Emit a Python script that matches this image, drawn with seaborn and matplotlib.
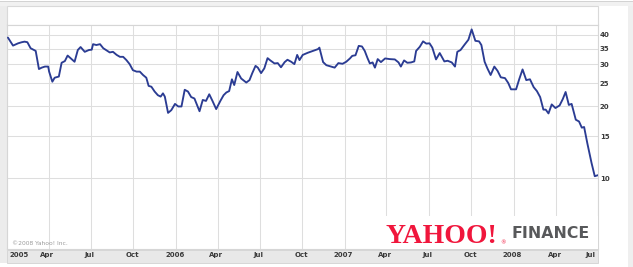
import matplotlib
matplotlib.use("Agg")
import matplotlib.pyplot as plt
from matplotlib.patches import Rectangle
from matplotlib.ticker import NullLocator
import matplotlib.transforms as mtransforms
import pandas as pd
import seaborn as sns

# ---- data ----
dates = [
    "2005-01-03", "2005-01-14", "2005-01-25", "2005-02-02", "2005-02-08", "2005-02-14",
    "2005-02-21", "2005-03-04", "2005-03-11", "2005-03-17", "2005-03-24", "2005-03-31",
    "2005-04-02", "2005-04-09", "2005-04-14", "2005-04-23", "2005-04-29", "2005-05-06",
    "2005-05-12", "2005-05-19", "2005-05-27", "2005-06-03", "2005-06-09", "2005-06-18",
    "2005-06-27", "2005-07-03", "2005-07-06", "2005-07-13", "2005-07-21", "2005-07-28",
    "2005-08-04", "2005-08-11", "2005-08-18", "2005-08-26", "2005-09-02", "2005-09-09",
    "2005-09-16", "2005-09-23", "2005-09-30", "2005-10-08", "2005-10-15", "2005-10-22",
    "2005-10-29", "2005-11-03", "2005-11-09", "2005-11-16", "2005-11-23", "2005-11-29",
    "2005-12-04", "2005-12-08", "2005-12-15", "2005-12-22", "2005-12-30",
    "2006-01-06", "2006-01-13", "2006-01-20", "2006-01-27", "2006-02-03", "2006-02-10",
    "2006-02-21", "2006-02-28", "2006-03-07", "2006-03-14", "2006-03-21", "2006-03-29",
    "2006-04-07", "2006-04-14", "2006-04-20", "2006-04-26", "2006-05-02", "2006-05-07",
    "2006-05-14", "2006-05-22", "2006-06-02", "2006-06-09", "2006-06-15", "2006-06-22",
    "2006-06-27", "2006-07-04", "2006-07-11", "2006-07-18", "2006-07-24", "2006-08-02",
    "2006-08-09", "2006-08-16", "2006-08-24", "2006-08-30", "2006-09-07", "2006-09-14",
    "2006-09-20", "2006-09-25", "2006-10-02", "2006-10-13", "2006-10-24", "2006-11-04",
    "2006-11-07", "2006-11-15", "2006-11-22", "2006-12-02", "2006-12-10", "2006-12-18",
    "2006-12-27",
    "2007-01-04", "2007-01-12", "2007-01-17", "2007-01-24", "2007-01-31", "2007-02-07",
    "2007-02-13", "2007-02-19", "2007-02-24", "2007-03-02", "2007-03-07", "2007-03-13",
    "2007-03-20", "2007-03-29", "2007-04-08", "2007-04-19", "2007-04-27", "2007-05-02",
    "2007-05-09", "2007-05-16", "2007-05-24", "2007-05-31", "2007-06-04", "2007-06-12",
    "2007-06-19", "2007-06-26", "2007-07-03", "2007-07-09", "2007-07-17", "2007-07-25",
    "2007-08-04", "2007-08-11", "2007-08-20", "2007-08-27", "2007-09-01", "2007-09-08",
    "2007-09-17", "2007-09-25", "2007-10-02", "2007-10-10", "2007-10-18", "2007-10-23",
    "2007-10-30", "2007-11-05", "2007-11-12", "2007-11-20", "2007-11-27", "2007-12-04",
    "2007-12-13", "2007-12-20", "2007-12-26",
    "2008-01-06", "2008-01-13", "2008-01-20", "2008-01-28", "2008-02-05", "2008-02-13",
    "2008-02-20", "2008-02-27", "2008-03-05", "2008-03-10", "2008-03-16", "2008-03-23",
    "2008-03-31", "2008-04-09", "2008-04-16", "2008-04-22", "2008-04-29", "2008-05-05",
    "2008-05-14", "2008-05-21", "2008-05-27", "2008-06-01", "2008-06-08", "2008-06-17",
    "2008-06-24", "2008-07-01",
]
closes = [
    38.9, 36.0, 36.8, 37.2, 37.4, 37.2,
    35.1, 34.2, 28.7, 29.1, 29.4, 29.4,
    28.0, 25.4, 26.4, 26.7, 30.5, 31.0,
    32.7, 31.8, 30.8, 34.5, 35.5, 33.9,
    34.5, 34.6, 36.5, 36.2, 36.5, 35.1,
    34.4, 33.7, 33.9, 32.9, 32.3, 32.3,
    31.3, 30.1, 28.4, 28.0, 28.0, 27.1,
    26.4, 24.4, 24.2, 23.1, 22.3, 22.0,
    22.7, 22.0, 18.8, 19.3, 20.5,
    20.0, 20.0, 23.5, 23.1, 21.9, 21.6,
    19.1, 21.3, 21.1, 22.5, 21.1, 19.5,
    21.1, 22.3, 22.9, 23.2, 26.0, 24.6,
    27.9, 26.2, 25.2, 25.8, 27.6, 29.6,
    29.1, 27.6, 28.9, 31.9, 31.2, 30.3,
    30.4, 29.2, 30.7, 31.4, 30.8, 30.1,
    32.9, 31.3, 32.9, 33.6, 34.2, 34.8,
    35.3, 30.7, 29.8, 29.4, 29.1, 30.4,
    30.2,
    30.8, 31.8, 32.6, 32.8, 35.9, 35.7,
    34.2, 31.9, 30.3, 30.6, 29.1, 31.6,
    30.7, 31.8, 31.6, 31.5, 30.6, 29.4,
    31.2, 30.5, 30.6, 30.9, 34.2, 35.6,
    37.5, 36.7, 36.8, 35.3, 31.5, 33.5,
    30.9, 31.1, 30.6, 29.4, 33.9, 34.5,
    36.4, 38.1, 42.1, 37.7, 37.5, 36.2,
    30.8, 28.9, 27.1, 29.4, 28.2, 26.5,
    26.3, 25.1, 23.6,
    23.6, 26.1, 28.6, 25.8, 26.0, 24.1,
    23.2, 21.9, 19.4, 19.4, 18.7, 20.4,
    19.7, 20.2, 21.5, 23.0, 20.3, 20.5,
    17.6, 17.3, 16.3, 16.4, 14.0, 11.6,
    10.2, 10.3,
]
ytick_values = [10, 15, 20, 25, 30, 35, 40]
xtick_dates = ["2005-01-01", "2005-04-01", "2005-07-01", "2005-10-01",
               "2006-01-01", "2006-04-01", "2006-07-01", "2006-10-01",
               "2007-01-01", "2007-04-01", "2007-07-01", "2007-10-01",
               "2008-01-01", "2008-04-01", "2008-07-01"]
xtick_labels = ["2005", "Apr", "Jul", "Oct", "2006", "Apr", "Jul", "Oct",
                "2007", "Apr", "Jul", "Oct", "2008", "Apr", "Jul"]

df = pd.DataFrame({"date": pd.to_datetime(dates), "close": closes})
xt = pd.to_datetime(xtick_dates)

sns.set_theme(style="white")
plt.rcParams["font.family"] = ["DejaVu Sans"]

W, H = 633, 267
fig = plt.figure(figsize=(W / 100, H / 100), dpi=100, facecolor="white")


def rect(x0, y0, x1, y1, **kw):
    r = Rectangle((x0 / W, 1 - y1 / H), (x1 - x0) / W, (y1 - y0) / H,
                  transform=fig.transFigure, **kw)
    fig.add_artist(r)
    return r


# outer frame pieces
rect(0, 2, 7, 263, facecolor="#ececec", edgecolor="none", zorder=-5)
rect(628, 2, 633, 267, facecolor="#efefef", edgecolor="none", zorder=-5)
rect(0, 2, 633, 6, facecolor="#f1f1f1", edgecolor="none", zorder=-5)
rect(0, 0.6, 633, 2, facecolor="#d3d3d3", edgecolor="none", zorder=-4)
# top white band of the panel
rect(7, 6, 598, 24.7, facecolor="white", edgecolor="#d9d9d9", linewidth=0.8, zorder=-3)
# bottom date band
rect(7, 249.5, 598, 263, facecolor="#e8e8e8", edgecolor="#d2d2d2", linewidth=0.6, zorder=-3)

ax = fig.add_axes([7 / W, 1 - 249 / H, (598 - 7) / W, (249 - 24.7) / H])
ax.set_facecolor("white")

sns.lineplot(data=df, x="date", y="close", ax=ax, color="#2b3c93",
             linewidth=1.35, zorder=3)

ax.set_yscale("log")
ax.set_ylim(5.05, 44.05)
ax.set_xlim(pd.Timestamp("2005-01-01"), pd.Timestamp("2008-07-01"))
ax.yaxis.set_minor_locator(NullLocator())
ax.yaxis.tick_right()
ax.set_yticks(ytick_values, [str(v) for v in ytick_values],
              fontsize=5, fontweight="bold", color="#3a3a3a")
ax.tick_params(axis="y", length=0, pad=1.3)
ax.set_xticks(xt)
ax.set_xticklabels([])
ax.tick_params(axis="x", length=0)
ax.xaxis.set_minor_locator(NullLocator())
ax.grid(True, which="major", color="#dedede", linewidth=0.75)
ax.set_axisbelow(True)
ax.set_xlabel("")
ax.set_ylabel("")
for s in ax.spines.values():
    s.set_color("#d6d6d6")
    s.set_linewidth(0.8)

# date labels placed on the axis' own date scale
trans = mtransforms.blended_transform_factory(ax.transData, ax.transAxes)
label_y = 1 - (255.3 - 24.7) / (249 - 24.7)
for i, (d, lab) in enumerate(zip(xt, xtick_labels)):
    if i == 0:
        off = mtransforms.offset_copy(trans, fig=fig, x=2.3, y=0, units="dots")
        ax.text(d, label_y, lab, transform=off, ha="left", va="center",
                fontsize=5, fontweight="bold", color="#3a3a3a", clip_on=False)
    elif i == len(xt) - 1:
        off = mtransforms.offset_copy(trans, fig=fig, x=-3, y=0, units="dots")
        ax.text(d, label_y, lab, transform=off, ha="right", va="center",
                fontsize=5, fontweight="bold", color="#3a3a3a", clip_on=False)
    else:
        off = mtransforms.offset_copy(trans, fig=fig, x=-1.2, y=0, units="dots")
        ax.text(d, label_y, lab, transform=off, ha="center", va="center",
                fontsize=5, fontweight="bold", color="#3a3a3a", clip_on=False)

# white box behind the logo (covers grid)
rect(380, 216, 597.5, 248.6, facecolor="white", edgecolor="none", zorder=2)

fig.text(12 / W, 1 - 243.7 / H, "\u00a92008 Yahoo! Inc.", fontsize=4.3,
         color="#9a9a9a", ha="left", va="center", zorder=4)
fig.text(386 / W, 1 - 243.2 / H, "YAHOO!", family="Liberation Serif",
         fontweight="bold", fontsize=20, color="#f0163c", ha="left",
         va="baseline", zorder=4)
fig.text(500 / W, 1 - 244 / H, "\u00ae", fontsize=4, color="#f0163c",
         ha="left", va="baseline", zorder=4)
fig.text(511.7 / W, 1 - 238.3 / H, "FINANCE", family="DejaVu Sans",
         fontweight="bold", fontsize=11.3, color="#58595b", ha="left",
         va="baseline", zorder=4)

fig.savefig("out.png", dpi=100, facecolor=fig.get_facecolor())
